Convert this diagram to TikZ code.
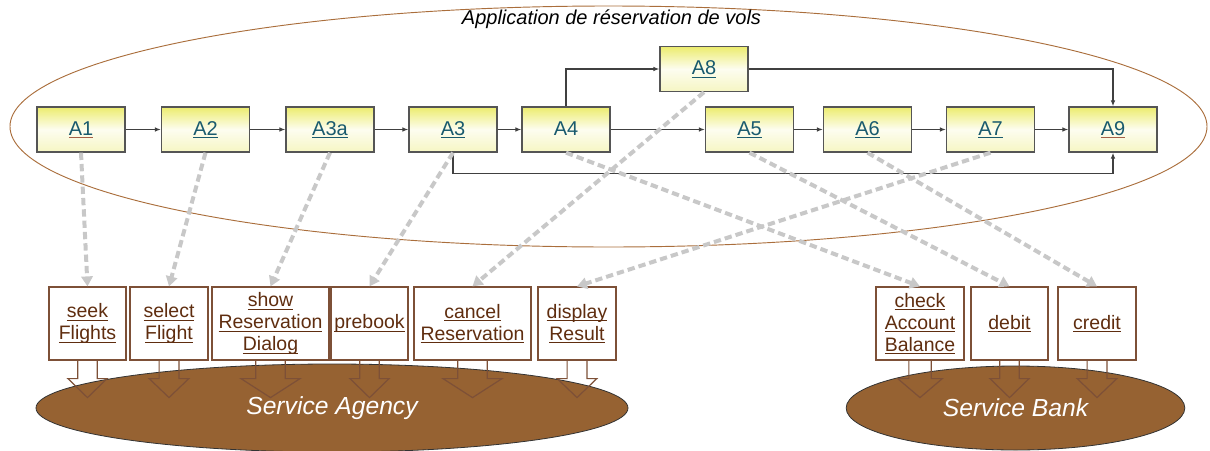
\documentclass[tikz,border=0pt]{standalone}
\usepackage{fontspec}
\setmainfont{Liberation Sans}
\usetikzlibrary{positioning,calc,arrows.meta,shapes.geometric}

\definecolor{actext}{RGB}{25,90,110}
\definecolor{acline}{RGB}{85,85,85}
\definecolor{optext}{RGB}{95,45,15}
\definecolor{opline}{RGB}{125,80,55}
\definecolor{svcfill}{RGB}{150,98,50}
\definecolor{appline}{RGB}{170,110,60}
\definecolor{usegray}{RGB}{200,200,200}
\definecolor{ulbrown}{RGB}{165,95,70}

\newsavebox{\ulkbox}
\newcommand{\ulk}[1]{\sbox{\ulkbox}{#1}\rlap{\rule[-2.3pt]{\wd\ulkbox}{0.8pt}}\usebox{\ulkbox}}
\newcommand{\ulkb}[1]{\sbox{\ulkbox}{#1}\rlap{\textcolor{ulbrown}{\rule[-2.3pt]{\wd\ulkbox}{0.8pt}}}\usebox{\ulkbox}}

\begin{document}
\begin{tikzpicture}[x=0.75pt,y=-0.75pt,>=latex,
    act/.style={draw=acline,line width=1pt,top color={rgb,255:red,236;green,236;blue,110},
      bottom color={rgb,255:red,246;green,246;blue,195},middle color={rgb,255:red,253;green,253;blue,240},
      text=actext,minimum width=66pt,minimum height=33.75pt,inner sep=0pt,
      text height=10.7pt,text depth=2.3pt,font=\fontsize{15}{18}\selectfont},
    op/.style={draw=opline,line width=0.9pt,fill=white,text=optext,align=center,
      minimum height=54.75pt,inner sep=1pt,font=\fontsize{14.6}{16.5}\selectfont},
    svc/.style={ellipse,draw=black!80,line width=0.6pt,fill=svcfill,text=white,
      inner sep=0pt,font=\fontsize{18.5}{20}\selectfont\itshape},
    flow/.style={draw=black!75,line width=0.9pt,-{Latex[length=4.5pt,width=3.5pt]}},
    uses/.style={draw=usegray,line width=3pt,dash pattern=on 5.5pt off 3pt,
      -{Triangle[length=7.5pt,width=8.5pt]}},
    callout/.style={draw=opline,line width=0.9pt,line join=miter}]
  \useasboundingbox (0,0) rectangle (1210,450);

  % application
  \draw[appline,line width=0.7pt] (608.5,126.5) ellipse [x radius=598.5,y radius=120.5];
  \node[font=\fontsize{15}{18}\selectfont\itshape] (title) at (611.5,19) {Application de réservation de vols};

  % services
  \node[svc,minimum width=444pt,minimum height=66pt] (agency) at (332,408) {Service Agency};
  \node[svc,minimum width=254pt,minimum height=63pt] (bank) at (1015.5,408) {Service Bank};

  \path
  % main chain
  (81,129.5)    node[act] (A1)  {\ulkb{A1}}
  (205.5,129.5) node[act] (A2)  {\ulk{A2}}
  (330,129.5)   node[act] (A3a) {\ulk{A3a}}
  (453,129.5)   node[act] (A3)  {\ulk{A3}}
  (566,129.5)   node[act] (A4)  {A4}
  (749.5,129.5) node[act] (A5)  {\ulk{A5}}
  (867.5,129.5) node[act] (A6)  {\ulk{A6}}
  (990.5,129.5) node[act] (A7)  {\ulk{A7}}
  (1113,129.5)  node[act] (A9)  {\ulkb{A9}}
  % branch
  (704,69)      node[act] (A8)  {\ulk{A8}};

  \path
  % agency operations
  (87.5,323.5)  node[op,minimum width=57.75pt] (seek)    {\ulk{seek}\\\ulk{Flights}}
  (169,323.5)   node[op,minimum width=58.5pt]  (select)  {\ulk{select}\\\ulk{Flight}}
  (270.5,323.5) node[op,minimum width=87.75pt] (show)    {\ulk{show}\\\ulk{Reservation}\\\ulk{Dialog}}
  (369.5,323.5) node[op,minimum width=57.75pt] (prebook) {\ulk{prebook}}
  (472.5,323.5) node[op,minimum width=87.75pt] (cancel)  {\ulk{cancel}\\\ulk{Reservation}}
  (577,323.5)   node[op,minimum width=58.5pt]  (display) {\ulk{display}\\\ulk{Result}}
  % bank operations
  (920,323.5)   node[op,minimum width=66pt]    (check)   {\ulk{check}\\\ulk{Account}\\\ulk{Balance}}
  (1009.5,323.5) node[op,minimum width=57.75pt] (debit)  {\ulk{debit}}
  (1097,323.5)  node[op,minimum width=58.5pt]  (credit)  {\ulk{credit}};

  % hollow arrows down into the services
  \foreach \n in {seek,select,show,prebook,cancel,display,check,debit,credit}
    \draw[callout] ($(\n.south west)!.375!(\n.south east)$) -- ++(0,18)
      -- ($(\n.south west)!.25!(\n.south east)+(0,18)$) -- ($(\n.south)+(0,37)$)
      -- ($(\n.south west)!.75!(\n.south east)+(0,18)$)
      -- ($(\n.south west)!.625!(\n.south east)+(0,18)$)
      -- ($(\n.south west)!.625!(\n.south east)$);

  % control flow
  \draw[flow] (A1) -- (A2);
  \draw[flow] (A2) -- (A3a);
  \draw[flow] (A3a) -- (A3);
  \draw[flow] (A3) -- (A4);
  \draw[flow] (A4) -- (A5);
  \draw[flow] (A5) -- (A6);
  \draw[flow] (A6) -- (A7);
  \draw[flow] (A7) -- (A9);
  \draw[flow] (A4.north) |- (A8.west);
  \draw[flow] (A8.east) -| (A9.north);
  \draw[flow] (A3.south) -- ++(0,21) -| (A9.south);

  % activities calling operations
  \foreach \a/\o in {A1/seek,A2/select,A3a/show,A3/prebook,A8/cancel,A7/display,A4/check,A5/debit,A6/credit}
    \draw[uses] (\a.south) -- (\o.north);
\end{tikzpicture}
\end{document}
